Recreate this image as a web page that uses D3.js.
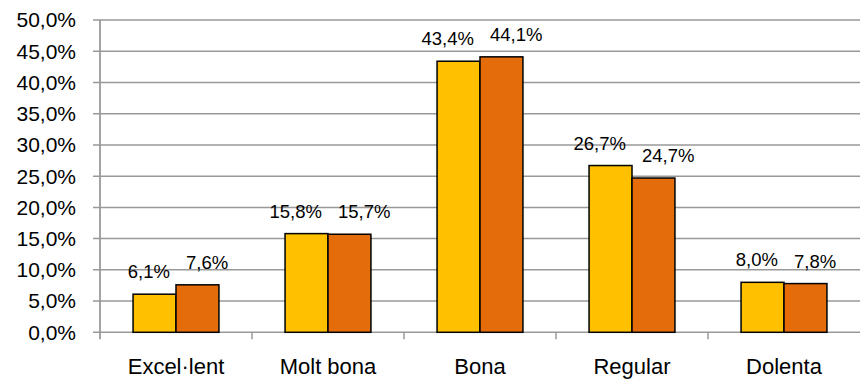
<!DOCTYPE html>
<html>
<head>
<meta charset="utf-8">
<script src="https://cdn.jsdelivr.net/npm/d3@7"></script>
<style>
	body { margin: 0; background: #fff; }
	svg { display: block; font-family: "Liberation Sans", Arial, sans-serif; }
</style>
</head>
<body>
<svg id="chart" width="860" height="379"></svg>
<script>
const categories = ['Excel·lent', 'Molt bona', 'Bona', 'Regular', 'Dolenta'],
	seriesA = [6.1, 15.8, 43.4, 26.7, 8.0],
	seriesB = [7.6, 15.7, 44.1, 24.7, 7.8],
	yTicks = [0, 5, 10, 15, 20, 25, 30, 35, 40, 45, 50];

const colors = ['#FFC000', '#E46C0A'];

const width = 860, height = 379,
	margin = { top: 20, right: 0, bottom: 47, left: 100 };

const svg = d3.select('#chart');
const fmt = v => d3.format('.1f')(v).replace('.', ',') + '%';

const x = d3.scaleBand()
	.domain(categories)
	.range([margin.left, width - margin.right])
	.paddingInner(0)
	.paddingOuter(0);

const y = d3.scaleLinear()
	.domain([0, 50])
	.range([height - margin.bottom + 0.3, margin.top]);

// two bars per category, ~43px each, centred in the band
const inner = d3.scaleBand()
	.domain([0, 1])
	.range([0, x.bandwidth()])
	.paddingInner(0)
	.paddingOuter(0.77);

// gridlines
svg.append('g')
	.selectAll('line')
	.data(yTicks)
	.join('line')
	.attr('x1', margin.left - 7)
	.attr('x2', width)
	.attr('y1', d => y(d))
	.attr('y2', d => y(d))
	.attr('stroke', '#999')
	.attr('stroke-width', 1.5);

// y labels
svg.append('g')
	.selectAll('text')
	.data(yTicks)
	.join('text')
	.attr('x', 76)
	.attr('y', d => y(d))
	.attr('dy', '0.35em')
	.attr('text-anchor', 'end')
	.attr('font-size', 21)
	.text(fmt);

// vertical axis
svg.append('line')
	.attr('x1', margin.left).attr('x2', margin.left)
	.attr('y1', y(50)).attr('y2', y(0) + 7)
	.attr('stroke', '#999')
	.attr('stroke-width', 1.8);

// category ticks
svg.append('g')
	.selectAll('line')
	.data(categories.slice(1))
	.join('line')
	.attr('x1', d => x(d)).attr('x2', d => x(d))
	.attr('y1', y(0)).attr('y2', y(0) + 7)
	.attr('stroke', '#999')
	.attr('stroke-width', 1.5);

// bars
const rows = categories.map((c, i) => ({ cat: c, vals: [seriesA[i], seriesB[i]] }));

const groups = svg.append('g')
	.selectAll('g')
	.data(rows)
	.join('g')
	.attr('transform', d => `translate(${x(d.cat)},0)`);

groups.selectAll('rect')
	.data(d => d.vals.map((v, k) => ({ v, k })))
	.join('rect')
	.attr('x', d => inner(d.k))
	.attr('y', d => y(d.v))
	.attr('width', inner.bandwidth())
	.attr('height', d => y(0) - y(d.v))
	.attr('fill', d => colors[d.k])
	.attr('stroke', '#000')
	.attr('stroke-width', 1.5);

// value labels pushed apart so the pair doesn't collide
const mid = x.bandwidth() / 2;
groups.selectAll('text')
	.data(d => d.vals.map((v, k) => ({ v, k })))
	.join('text')
	.attr('x', d => d.k === 0 ? mid - 6 : mid + 10)
	.attr('y', d => y(d.v) - 16)
	.attr('text-anchor', d => d.k === 0 ? 'end' : 'start')
	.attr('font-size', 18.5)
	.text(d => fmt(d.v));

// category labels
svg.append('g')
	.selectAll('text')
	.data(categories)
	.join('text')
	.attr('x', d => x(d) + x.bandwidth() / 2)
	.attr('y', 374)
	.attr('text-anchor', 'middle')
	.attr('font-size', 22)
	.text(d => d);
</script>
</body>
</html>
